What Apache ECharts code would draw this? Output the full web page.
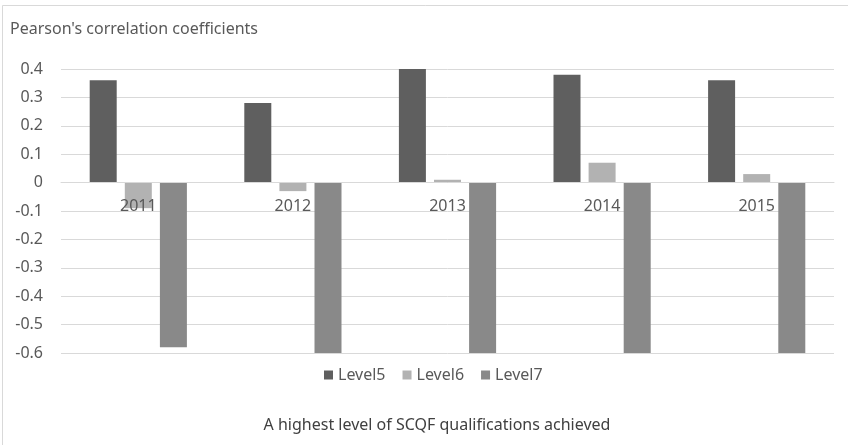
<!DOCTYPE html>
<html>
<head>
<meta charset="utf-8">
<script src="https://cdn.jsdelivr.net/npm/echarts@6/dist/echarts.min.js"></script>
<style>
html,body{margin:0;padding:0;background:#fff;}
#chart{width:848px;height:445px;}
</style>
</head>
<body>
<div id="chart"></div>
<script>
var categories = ['2011', '2012', '2013', '2014', '2015'];
var level5 = [0.36, 0.28, 0.40, 0.38, 0.36];
var level6 = [-0.09, -0.03, 0.01, 0.07, 0.03];
var level7 = [-0.58, -0.60, -0.60, -0.60, -0.60];
var seriesNames = ['Level5', 'Level6', 'Level7'];
var yTicks = { min: -0.6, max: 0.4, interval: 0.1 };
var yAxisTitle = "Pearson's correlation coefficients";
var xAxisTitle = 'A highest level of SCQF qualifications achieved';

var FONT = 'Noto Sans';
var TXT = '#595959';
var colors = ['#5f5f5f', '#b2b2b2', '#898989'];

var chart = echarts.init(document.getElementById('chart'), null, { renderer: 'canvas' });
var datas = [level5, level6, level7];
chart.setOption({
  animation: false,
  backgroundColor: '#ffffff',
  textStyle: { fontFamily: FONT },
  legend: {
    data: seriesNames,
    top: 362,
    left: 319,
    itemWidth: 9, itemHeight: 9, itemGap: 17,
    icon: 'rect',
    textStyle: { fontFamily: FONT, fontSize: 16, color: TXT }
  },
  grid: { left: 61, right: 14, top: 69, bottom: 92, containLabel: false },
  xAxis: {
    type: 'category',
    data: categories,
    axisLine: { onZero: false, lineStyle: { color: '#d9d9d9', width: 1 } },
    axisTick: { show: false },
    axisLabel: { color: TXT, fontSize: 16, fontFamily: FONT, margin: 16 },
    splitLine: { show: false },
    z: 5
  },
  yAxis: {
    type: 'value',
    min: yTicks.min, max: yTicks.max, interval: yTicks.interval,
    axisLine: { show: false },
    axisTick: { show: false },
    axisLabel: { color: TXT, fontSize: 16, fontFamily: FONT, margin: 18,
      formatter: function (v) { return Math.abs(v) < 1e-9 ? '0' : v.toFixed(1); } },
    splitLine: { lineStyle: { color: '#d9d9d9', width: 1 } }
  },
  series: seriesNames.map(function (n, i) {
    return {
      name: n, type: 'bar', data: datas[i],
      barWidth: 27, barGap: '30%',
      itemStyle: { color: colors[i] },
      z: 2
    };
  }),
  graphic: [
    { type: 'line', shape: { x1: 2.5, y1: 5.5, x2: 848, y2: 5.5 }, style: { stroke: '#d9d9d9', lineWidth: 1 }, silent: true },
    { type: 'line', shape: { x1: 2.5, y1: 5.5, x2: 2.5, y2: 445 }, style: { stroke: '#d9d9d9', lineWidth: 1 }, silent: true },
    { type: 'text', left: 10, top: 21, silent: true,
      style: { text: yAxisTitle, font: '16px "Noto Sans"', fill: TXT } },
    { type: 'text', x: 437, y: 425, silent: true,
      style: { text: xAxisTitle, font: '16px "Noto Sans"', fill: '#404040', textAlign: 'center', textVerticalAlign: 'middle' } }
  ]
});
// move the category axis onto the zero line of the value axis
var zeroY = chart.convertToPixel({ yAxisIndex: 0 }, 0);
var bottomY = chart.convertToPixel({ yAxisIndex: 0 }, yTicks.min);
chart.setOption({ xAxis: { offset: -(bottomY - zeroY) } });
</script>
</body>
</html>
